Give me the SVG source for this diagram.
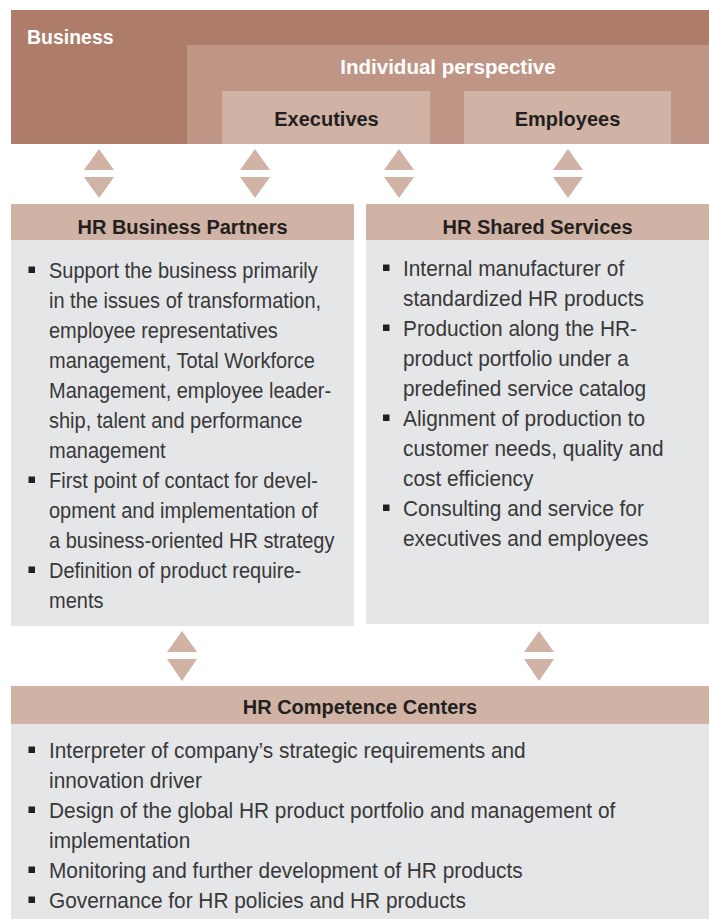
<svg xmlns="http://www.w3.org/2000/svg" width="709" height="919" viewBox="0 0 709 919">
<defs>
<style>
.bg{fill:#ffffff}
.c1{fill:#ad7d6a}
.c2{fill:#bf9585}
.c3{fill:#d0b3a5}
.gray{fill:#e5e6e8}
.arr{fill:#d0b3a5}
.hw{font-family:"Liberation Sans",Arial,sans-serif;font-weight:bold;font-size:20.5px;fill:#ffffff}
.hd{font-family:"Liberation Sans",Arial,sans-serif;font-weight:bold;font-size:20px;fill:#231f20;text-anchor:middle}
.tx{font-family:"Liberation Sans",Arial,sans-serif;font-size:21.5px;fill:#383838}
.bul{fill:#231f20}
</style>
</defs>
<rect class="bg" x="0" y="0" width="709" height="919"/>

<g id="business">
<rect class="c1" x="11" y="10" width="698" height="134"/>
<text class="hw" x="27" y="44.5" transform="translate(27 0) scale(0.95 1) translate(-27 0)">Business</text>
</g>
<g id="individual-perspective">
<rect class="c2" x="187" y="45" width="522" height="99"/>
<text class="hw" x="448" y="73.5" text-anchor="middle">Individual perspective</text>
</g>
<g id="executives">
<rect class="c3" x="222" y="91" width="208" height="53"/>
<text class="hd" x="326.5" y="126">Executives</text>
</g>
<g id="employees">
<rect class="c3" x="464" y="91" width="207" height="53"/>
<text class="hd" x="567.5" y="126">Employees</text>
</g>

<g id="connectors">
<polygon class="arr" points="99,149 114,170 84,170"/>
<polygon class="arr" points="84,177 114,177 99,198"/>
<polygon class="arr" points="255,149 270,170 240,170"/>
<polygon class="arr" points="240,177 270,177 255,198"/>
<polygon class="arr" points="399,149 414,170 384,170"/>
<polygon class="arr" points="384,177 414,177 399,198"/>
<polygon class="arr" points="568,149 583,170 553,170"/>
<polygon class="arr" points="553,177 583,177 568,198"/>
<polygon class="arr" points="182,631 197,652 167,652"/>
<polygon class="arr" points="167,659 197,659 182,681"/>
<polygon class="arr" points="539,631 554,652 524,652"/>
<polygon class="arr" points="524,659 554,659 539,681"/>
</g>

<g id="hr-business-partners">
<rect class="c3" x="11" y="204" width="343" height="36"/>
<rect class="gray" x="11" y="240" width="343" height="386"/>
<text class="hd" x="182.5" y="234">HR Business Partners</text>
<rect class="bul" x="28.5" y="266.5" width="6.5" height="6.5"/>
<rect class="bul" x="28.5" y="476.5" width="6.5" height="6.5"/>
<rect class="bul" x="28.5" y="566.5" width="6.5" height="6.5"/>
<g transform="translate(49 0) scale(0.93 1)">
<text class="tx" y="278">
<tspan x="0" y="278">Support the business primarily</tspan>
<tspan x="0" y="308">in the issues of transformation,</tspan>
<tspan x="0" y="338">employee representatives</tspan>
<tspan x="0" y="368">management, Total Workforce</tspan>
<tspan x="0" y="398">Management, employee leader-</tspan>
<tspan x="0" y="428">ship, talent and performance</tspan>
<tspan x="0" y="458">management</tspan>
<tspan x="0" y="488">First point of contact for devel-</tspan>
<tspan x="0" y="518">opment and implementation of</tspan>
<tspan x="0" y="548">a business-oriented HR strategy</tspan>
<tspan x="0" y="578">Definition of product require-</tspan>
<tspan x="0" y="608">ments</tspan>
</text>
</g>
</g>

<g id="hr-shared-services">
<rect class="c3" x="366" y="204" width="343" height="36"/>
<rect class="gray" x="366" y="240" width="343" height="384"/>
<text class="hd" x="537.5" y="234">HR Shared Services</text>
<rect class="bul" x="383" y="264.5" width="6.5" height="6.5"/>
<rect class="bul" x="383" y="324.5" width="6.5" height="6.5"/>
<rect class="bul" x="383" y="414.5" width="6.5" height="6.5"/>
<rect class="bul" x="383" y="504.5" width="6.5" height="6.5"/>
<g transform="translate(403 0) scale(0.97 1)">
<text class="tx" y="276">
<tspan x="0" y="276">Internal manufacturer of</tspan>
<tspan x="0" y="306">standardized HR products</tspan>
<tspan x="0" y="336">Production along the HR-</tspan>
<tspan x="0" y="366">product portfolio under a</tspan>
<tspan x="0" y="396">predefined service catalog</tspan>
<tspan x="0" y="426">Alignment of production to</tspan>
<tspan x="0" y="456">customer needs, quality and</tspan>
<tspan x="0" y="486">cost efficiency</tspan>
<tspan x="0" y="516">Consulting and service for</tspan>
<tspan x="0" y="546">executives and employees</tspan>
</text>
</g>
</g>

<g id="hr-competence-centers">
<rect class="c3" x="11" y="686" width="698" height="38"/>
<rect class="gray" x="11" y="724" width="698" height="195"/>
<text class="hd" x="360" y="714">HR Competence Centers</text>
<rect class="bul" x="28.5" y="746.5" width="6.5" height="6.5"/>
<rect class="bul" x="28.5" y="806.5" width="6.5" height="6.5"/>
<rect class="bul" x="28.5" y="866.5" width="6.5" height="6.5"/>
<rect class="bul" x="28.5" y="896.5" width="6.5" height="6.5"/>
<g transform="translate(49 0) scale(0.97 1)">
<text class="tx" y="758">
<tspan x="0" y="758">Interpreter of company’s strategic requirements and</tspan>
<tspan x="0" y="788">innovation driver</tspan>
<tspan x="0" y="818">Design of the global HR product portfolio and management of</tspan>
<tspan x="0" y="848">implementation</tspan>
<tspan x="0" y="878">Monitoring and further development of HR products</tspan>
<tspan x="0" y="908">Governance for HR policies and HR products</tspan>
</text>
</g>
</g>
</svg>
